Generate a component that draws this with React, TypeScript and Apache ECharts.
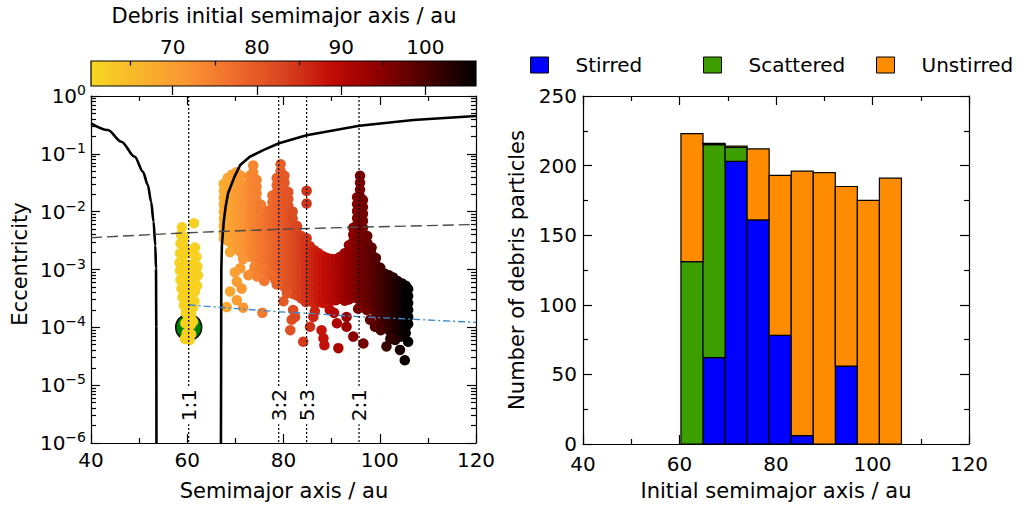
import React, { useEffect, useRef } from 'react';
import * as echarts from 'echarts';

const FONT = 'DejaVu Sans';

// ---------- colour bar ----------
const colorbarRange = [60.3, 106];
const colorbarMajorTicks = [70, 80, 90, 100];
const colorbarMinorTicks = [65, 75, 85, 95, 105];
const colormap = ['#f7d81f', '#f9b52c', '#fa9533', '#ef6c2c', '#d8441f', '#c20c06', '#8c0000', '#470000', '#000000'];

// ---------- left panel ----------
const resonanceA = [60.3, 79.0, 84.8, 95.7];
const resonanceLabels = ['1:1', '3:2', '5:3', '2:1'];
const resonanceLabelE = 4.5e-6;
const planet: [number, number] = [60.3, 1e-4];

const innerCurve: [number, number][] = [
  [40, 0.337], [43.5, 0.258], [46.3, 0.162], [49.1, 0.089], [50.8, 0.049], [51.8, 0.029],
  [52.5, 0.0148], [53.0, 0.0067], [53.36, 0.0026], [53.5, 1.05e-3], [53.57, 1e-4], [53.6, 1e-6],
];
const outerCurve: [number, number][] = [
  [67.0, 1e-6], [67.03, 1e-5], [67.05, 1e-4], [67.08, 1e-3], [67.2, 2.6e-3], [67.6, 7e-3],
  [68.0, 0.0125], [68.5, 0.021], [69.8, 0.04], [71.0, 0.064], [73.0, 0.089], [75.8, 0.116],
  [79.07, 0.152], [84.8, 0.21], [95.75, 0.305], [107, 0.385], [120, 0.451],
];
const greyDashed: [number, number][] = [[40, 3.55e-3], [60.3, 4.33e-3], [79, 4.95e-3], [95.7, 5.4e-3], [120, 6.0e-3]];
const blueDashDot: [number, number][] = [[60.3, 2.43e-4], [79, 1.86e-4], [84.8, 1.75e-4], [95.7, 1.53e-4], [120, 1.22e-4]];

// Trojan (1:1) particles: [a, log10 e]
const trojans: [number, number][] = [
  [58.9, -2.27], [61.4, -2.2], [58.7, -2.4], [59.3, -2.45], [58.6, -2.55], [59.4, -2.6], [61.6, -2.62],
  [58.5, -2.72], [59.3, -2.75], [60.6, -2.72], [61.9, -2.78], [58.4, -2.88], [59.2, -2.9], [60.2, -2.92],
  [61.3, -2.9], [62.1, -2.95], [58.5, -3.02], [59.4, -3.05], [60.4, -3.08], [61.4, -3.05], [62.2, -3.1],
  [58.6, -3.18], [59.5, -3.2], [60.5, -3.22], [61.5, -3.2], [62.0, -3.28], [58.8, -3.33], [59.7, -3.36],
  [60.7, -3.35], [61.6, -3.38], [59.0, -3.48], [59.9, -3.5], [60.9, -3.5], [61.5, -3.55], [59.3, -3.62],
  [60.3, -3.64], [61.2, -3.66], [59.7, -3.75], [60.8, -3.78], [60.2, -3.85], [59.6, -3.93], [60.7, -3.96],
  [61.2, -3.9], [59.9, -4.1], [60.8, -4.12], [59.5, -4.2], [60.5, -4.22],
];

// main debris cloud, columns of [a, log10 e values]
const cloudColumns: [number, number[]][] = [
  [67.6, [-1.52, -1.64, -1.76, -1.88, -2.0, -2.12, -2.24, -2.36, -2.46]],
  [68.4, [-1.42, -1.54, -1.66, -1.78, -1.9, -2.02, -2.14, -2.26, -2.38, -2.5]],
  [69.3, [-1.36, -1.48, -1.6, -1.72, -1.84, -1.96, -2.08, -2.2, -2.32, -2.44, -2.56]],
  [70.2, [-1.32, -1.44, -1.56, -1.68, -1.8, -1.92, -2.04, -2.16, -2.28, -2.4, -2.52, -2.64]],
  [71.1, [-1.38, -1.5, -1.62, -1.74, -1.86, -1.98, -2.1, -2.22, -2.34, -2.46, -2.58, -2.7]],
  [72.0, [-1.6, -1.72, -1.84, -1.96, -2.08, -2.2, -2.32, -2.44, -2.56, -2.68]],
  [73.0, [-1.38, -1.5, -1.62, -1.74, -1.86, -1.98, -2.1, -2.22, -2.34, -2.46, -2.58, -2.7, -2.78]],
  [73.7, [-1.2, -1.32, -1.44, -1.56, -1.68, -1.8, -1.92, -2.04, -2.16, -2.28, -2.4, -2.52, -2.64, -2.76]],
  [74.4, [-1.45, -1.57, -1.69, -1.81, -1.93, -2.05, -2.17, -2.29, -2.41, -2.53, -2.65, -2.77, -2.84]],
  [75.3, [-1.88, -2.0, -2.12, -2.24, -2.36, -2.48, -2.6, -2.72, -2.84, -2.9]],
  [76.1, [-2.12, -2.24, -2.36, -2.48, -2.6, -2.72, -2.84, -2.94]],
  [76.9, [-1.98, -2.1, -2.22, -2.34, -2.46, -2.58, -2.7, -2.82, -2.94, -3.0]],
  [77.7, [-1.72, -1.84, -1.96, -2.08, -2.2, -2.32, -2.44, -2.56, -2.68, -2.8, -2.92, -3.04]],
  [78.6, [-1.42, -1.54, -1.66, -1.78, -1.9, -2.02, -2.14, -2.26, -2.38, -2.5, -2.62, -2.74, -2.86, -2.98, -3.1]],
  [79.4, [-1.18, -1.3, -1.42, -1.54, -1.66, -1.78, -1.9, -2.02, -2.14, -2.26, -2.38, -2.5, -2.62, -2.74, -2.86, -2.98, -3.1, -3.2]],
  [80.2, [-1.38, -1.5, -1.62, -1.74, -1.86, -1.98, -2.1, -2.22, -2.34, -2.46, -2.58, -2.7, -2.82, -2.94, -3.06, -3.18, -3.3]],
  [81.0, [-1.66, -1.78, -1.9, -2.02, -2.14, -2.26, -2.38, -2.5, -2.62, -2.74, -2.86, -2.98, -3.1, -3.22, -3.34]],
  [81.9, [-2.0, -2.12, -2.24, -2.36, -2.48, -2.6, -2.72, -2.84, -2.96, -3.08, -3.2, -3.32, -3.42]],
  [82.8, [-2.25, -2.37, -2.49, -2.61, -2.73, -2.85, -2.97, -3.09, -3.21, -3.33, -3.45]],
  [83.7, [-2.42, -2.54, -2.66, -2.78, -2.9, -3.02, -3.14, -3.26, -3.38, -3.5]],
  [84.6, [-2.52, -2.64, -2.76, -2.88, -3.0, -3.12, -3.24, -3.36, -3.48, -3.56]],
  [85.5, [-2.6, -2.72, -2.84, -2.96, -3.08, -3.2, -3.32, -3.44, -3.55]],
  [86.4, [-2.67, -2.79, -2.91, -3.03, -3.15, -3.27, -3.39, -3.51, -3.58]],
  [87.3, [-2.72, -2.84, -2.96, -3.08, -3.2, -3.32, -3.44, -3.56]],
  [88.2, [-2.77, -2.89, -3.01, -3.13, -3.25, -3.37, -3.49, -3.58]],
  [89.1, [-2.8, -2.92, -3.04, -3.16, -3.28, -3.4, -3.52]],
  [90.0, [-2.82, -2.94, -3.06, -3.18, -3.3, -3.42, -3.54]],
  [90.9, [-2.82, -2.94, -3.06, -3.18, -3.3, -3.42, -3.53]],
  [91.8, [-2.78, -2.9, -3.02, -3.14, -3.26, -3.38, -3.5]],
  [92.7, [-2.72, -2.84, -2.96, -3.08, -3.2, -3.32, -3.44, -3.54]],
  [93.6, [-2.58, -2.7, -2.82, -2.94, -3.06, -3.18, -3.3, -3.42, -3.52]],
  [94.5, [-2.28, -2.4, -2.52, -2.64, -2.76, -2.88, -3.0, -3.12, -3.24, -3.36, -3.48]],
  [95.3, [-1.75, -1.87, -1.99, -2.11, -2.23, -2.35, -2.47, -2.59, -2.71, -2.83, -2.95, -3.07, -3.19, -3.31, -3.43, -3.5]],
  [95.9, [-1.38, -1.5, -1.62, -1.74, -1.86, -1.98, -2.1, -2.22, -2.34, -2.46, -2.58, -2.7, -2.82, -2.94, -3.06, -3.18, -3.3, -3.42, -3.52]],
  [96.5, [-1.8, -1.92, -2.04, -2.16, -2.28, -2.4, -2.52, -2.64, -2.76, -2.88, -3.0, -3.12, -3.24, -3.36, -3.48, -3.56]],
  [97.4, [-2.42, -2.54, -2.66, -2.78, -2.9, -3.02, -3.14, -3.26, -3.38, -3.5, -3.6]],
  [98.3, [-2.62, -2.74, -2.86, -2.98, -3.1, -3.22, -3.34, -3.46, -3.58, -3.68]],
  [99.2, [-2.8, -2.92, -3.04, -3.16, -3.28, -3.4, -3.52, -3.64, -3.74]],
  [100.1, [-2.97, -3.09, -3.21, -3.33, -3.45, -3.57, -3.69, -3.81, -3.9]],
  [101.0, [-3.07, -3.19, -3.31, -3.43, -3.55, -3.67, -3.79, -3.91, -4.0]],
  [101.9, [-3.1, -3.22, -3.34, -3.46, -3.58, -3.7, -3.82, -3.94, -4.05]],
  [102.8, [-3.14, -3.26, -3.38, -3.5, -3.62, -3.74, -3.86, -3.98, -4.08]],
  [103.7, [-3.2, -3.32, -3.44, -3.56, -3.68, -3.8, -3.92, -4.04, -4.12]],
  [104.6, [-3.24, -3.36, -3.48, -3.6, -3.72, -3.84, -3.96, -4.08, -4.16]],
  [105.4, [-3.28, -3.4, -3.52, -3.64, -3.76, -3.88, -4.0, -4.1]],
  [105.9, [-3.34, -3.46, -3.58, -3.7, -3.82, -3.94]],
];

// isolated particles: [a, log10 e]
const cloudOutliers: [number, number][] = [
  [68.9, -2.7], [68.9, -3.38], [70.3, -3.21], [71.3, -3.33], [68.2, -3.65], [71.6, -3.66], [75.6, -3.75],
  [70.3, -3.53], [71.0, -2.98], [71.6, -2.82], [73.7, -3.05], [75.8, -2.98], [72.7, -3.1], [69.9, -3.05],
  [74.0, -2.95], [75.0, -3.0], [76.5, -3.05], [77.5, -3.1], [78.3, -3.18], [74.5, -3.12], [76.0, -3.2],
  [78.6, -3.26], [80.0, -3.55], [80.7, -3.41], [81.7, -3.87], [81.4, -4.05], [82.4, -3.82], [84.1, -4.25],
  [82.0, -3.7], [84.8, -1.64], [84.8, -1.86], [84.8, -2.46],
  [85.5, -3.99], [86.2, -3.82], [86.5, -3.72], [87.9, -4.05], [88.3, -4.19], [88.5, -4.31], [91.1, -3.93],
  [91.4, -4.36], [93.1, -3.82], [93.1, -3.99], [94.5, -4.16], [96.6, -4.28], [97.3, -3.7], [98.0, -3.87],
  [99.0, -3.99], [89.6, -3.7], [90.5, -3.75], [95.5, -3.68],
  [101.4, -4.33], [103.2, -4.22], [104.2, -4.39], [105.2, -4.57], [105.9, -4.25], [100.2, -4.05], [102.2, -4.2],
];

// ---------- right panel (histogram) ----------
const binEdges = [60.3, 64.87, 69.44, 74.01, 78.58, 83.15, 87.72, 92.29, 96.86, 101.43, 106.0];
const stirred = [0, 62, 203, 161, 78, 6, 0, 56, 0, 0];
const scattered = [131, 153, 10, 0, 0, 0, 0, 0, 0, 0];
const unstirred = [92, 1, 1, 51, 115, 190, 195, 129, 175, 191];
const histNames = ['Stirred', 'Scattered', 'Unstirred'];
const histColors = ['#0000ff', '#3d9e00', '#ff8c00'];

const decades = [1e-6, 1e-5, 1e-4, 1e-3, 1e-2, 1e-1, 1];
const minorLog: number[] = [];
for (let d = -6; d < 0; d++) for (let k = 2; k <= 9; k++) minorLog.push(k * Math.pow(10, d));

function buildOption() {
  const toPt = (p: [number, number]) => [p[0], Math.pow(10, p[1])];
  const cloudData: number[][] = [];
  cloudColumns.forEach(([a, les]) => les.forEach((le) => cloudData.push([a, Math.pow(10, le)])));
  cloudOutliers.forEach((p) => cloudData.push(toPt(p)));
  const trojanData = trojans.map(toPt);

  const bases = binEdges.slice(0, -1).map(() => 0);
  const histData = [stirred, scattered, unstirred].map((vals) =>
    vals.map((v, i) => {
      const b = bases[i];
      bases[i] += v;
      return [binEdges[i], binEdges[i + 1], b, b + v];
    })
  );

  const black = { color: '#000', width: 1.2 };
  const tickLabel = { fontSize: 20, fontFamily: FONT, color: '#000' };

  const xBase = (grid: number, pos: string, labels: boolean, margin = 8) => ({
    gridIndex: grid, type: 'value', position: pos, min: 40, max: 120, interval: 20,
    axisLine: { show: true, onZero: false, lineStyle: black },
    axisTick: { show: true, inside: true, length: 9, lineStyle: black },
    minorTick: { show: true, splitNumber: 2, length: 5, lineStyle: black },
    axisLabel: labels ? { ...tickLabel, margin, lineHeight: 16 } : { show: false },
    splitLine: { show: false }, minorSplitLine: { show: false },
  });

  const logAxis = (pos: string, minor: boolean, labels: boolean) => ({
    gridIndex: 0, type: 'log', logBase: 10, min: 1e-6, max: 1, position: pos,
    axisLine: { show: !minor, onZero: false, lineStyle: black },
    axisTick: { show: true, inside: true, length: minor ? 5 : 9, lineStyle: black, customValues: minor ? minorLog : decades },
    axisLabel: labels
      ? {
          customValues: decades, margin: 5,
          formatter: (v: number) => {
            const ex = Math.round(Math.log10(v));
            return `{b|10}{s|${ex < 0 ? '\u2212' + -ex : ex}}`;
          },
          rich: {
            b: { fontSize: 20, fontFamily: FONT, color: '#000' },
            s: { fontSize: 14, fontFamily: FONT, color: '#000', padding: [0, 0, 12, 0] },
          },
        }
      : { show: false },
    splitLine: { show: false },
  });

  const barRender = (color: string) => (params: any, api: any) => {
    const x0 = api.value(0), x1 = api.value(1), y0 = api.value(2), y1 = api.value(3);
    if (!(y1 > y0)) return { type: 'group', children: [] };
    const p0 = api.coord([x0, y1]);
    const p1 = api.coord([x1, y0]);
    return {
      type: 'rect',
      shape: { x: p0[0], y: p0[1], width: p1[0] - p0[0], height: p1[1] - p0[1] },
      style: { fill: color, stroke: '#000', lineWidth: 1.2 },
    };
  };

  const gradStops = colormap.map((c, i) => ({ offset: i / (colormap.length - 1), color: c }));

  const legendItem = (i: number, left: number) => ({
    left, top: 50, orient: 'horizontal', selectedMode: false,
    itemWidth: 18, itemHeight: 16,
    textStyle: { fontSize: 20, fontFamily: FONT, color: '#000', padding: [0, 0, 0, 22] },
    data: [{ name: histNames[i], icon: 'rect', itemStyle: { color: histColors[i], borderColor: '#000', borderWidth: 1 } }],
  });

  const curveLine = (name: string, data: [number, number][], smooth: boolean) => ({
    name, type: 'line', xAxisIndex: 0, yAxisIndex: 0, z: 4, data,
    smooth: smooth ? 0.3 : false, smoothMonotone: 'x',
    symbol: 'none', lineStyle: { color: '#000', width: 2.6 }, silent: true,
  });

  return {
    animation: false,
    backgroundColor: '#fff',
    grid: [
      { left: 91, top: 96, width: 385, height: 347, containLabel: false, outerBoundsMode: 'none' },
      { left: 91, top: 61, width: 385, height: 25, containLabel: false, outerBoundsMode: 'none' },
      { left: 583, top: 96, width: 386, height: 348, containLabel: false, outerBoundsMode: 'none' },
    ],
    legend: [legendItem(0, 525), legendItem(1, 698), legendItem(2, 871)],
    visualMap: [
      {
        type: 'continuous', show: false, seriesIndex: 1, dimension: 0,
        min: colorbarRange[0], max: colorbarRange[1],
        inRange: { color: colormap }, outOfRange: { color: colormap[0] },
      },
    ],
    xAxis: [
      xBase(0, 'bottom', true, 9),
      xBase(0, 'top', false),
      {
        gridIndex: 1, type: 'value', position: 'top', min: colorbarRange[0], max: colorbarRange[1], z: 10,
        axisLine: { show: false },
        axisTick: { show: true, inside: true, length: 9, lineStyle: black, customValues: colorbarMajorTicks },
        axisLabel: { ...tickLabel, margin: 4, customValues: colorbarMajorTicks },
        splitLine: { show: false },
      },
      {
        gridIndex: 1, type: 'value', position: 'top', min: colorbarRange[0], max: colorbarRange[1], z: 10,
        axisLine: { show: false },
        axisTick: { show: true, inside: true, length: 4.5, lineStyle: black, customValues: colorbarMinorTicks },
        axisLabel: { show: false },
        splitLine: { show: false },
      },
      xBase(2, 'bottom', true, 12),
      xBase(2, 'top', false),
    ],
    yAxis: [
      logAxis('left', false, true),
      logAxis('left', true, false),
      logAxis('right', false, false),
      logAxis('right', true, false),
      { gridIndex: 1, type: 'value', min: 0, max: 1, show: false },
      {
        gridIndex: 2, type: 'value', position: 'left', min: 0, max: 250, interval: 50,
        axisLine: { show: true, onZero: false, lineStyle: black },
        axisTick: { show: true, inside: true, length: 9, lineStyle: black },
        minorTick: { show: true, splitNumber: 2, length: 5, lineStyle: black },
        axisLabel: { ...tickLabel, margin: 6, lineHeight: 14, padding: [0, 0, 8, 0] },
        splitLine: { show: false }, minorSplitLine: { show: false },
      },
      {
        gridIndex: 2, type: 'value', position: 'right', min: 0, max: 250, interval: 50,
        axisLine: { show: true, onZero: false, lineStyle: black },
        axisTick: { show: true, inside: true, length: 9, lineStyle: black },
        minorTick: { show: true, splitNumber: 2, length: 5, lineStyle: black },
        axisLabel: { show: false },
        splitLine: { show: false }, minorSplitLine: { show: false },
      },
    ],
    series: [
      {
        name: 'planet', type: 'scatter', xAxisIndex: 0, yAxisIndex: 0, z: 2,
        symbol: 'circle', symbolSize: 26, data: [planet],
        itemStyle: { color: '#008000', borderColor: '#000', borderWidth: 1.5, opacity: 1 },
        silent: true,
      },
      {
        name: 'cloud', type: 'scatter', xAxisIndex: 0, yAxisIndex: 0, z: 3,
        symbol: 'circle', symbolSize: 10.5, data: cloudData,
        itemStyle: { opacity: 1 }, silent: true, large: false,
      },
      {
        name: 'trojans', type: 'scatter', xAxisIndex: 0, yAxisIndex: 0, z: 3,
        symbol: 'circle', symbolSize: 10.5, data: trojanData,
        itemStyle: { color: '#f7d11f', opacity: 1 }, silent: true,
      },
      curveLine('inner', innerCurve, true),
      curveLine('outer', outerCurve, false),
      {
        name: 'grey', type: 'line', xAxisIndex: 0, yAxisIndex: 0, z: 4, data: greyDashed,
        symbol: 'none', lineStyle: { color: '#4a4a4a', width: 1.4, type: [11, 5] }, silent: true,
      },
      {
        name: 'blue', type: 'line', xAxisIndex: 0, yAxisIndex: 0, z: 4, data: blueDashDot,
        symbol: 'none', lineStyle: { color: '#3d88c8', width: 1.4, type: [7, 3, 2, 3] }, silent: true,
      },
      {
        name: 'resonances', type: 'custom', xAxisIndex: 0, yAxisIndex: 0, z: 5, silent: true,
        data: resonanceA.map((a) => [a, 1e-3]),
        renderItem: (params: any, api: any) => {
          const a = api.value(0);
          const top = api.coord([a, 1]);
          const bottom = api.coord([a, 1e-6]);
          const lab = api.coord([a, resonanceLabelE]);
          return {
            type: 'group',
            children: [
              {
                type: 'line',
                shape: { x1: top[0], y1: top[1], x2: bottom[0], y2: bottom[1] },
                style: { stroke: '#000', lineWidth: 1.2, lineDash: [2, 2] },
              },
              {
                type: 'text', x: lab[0], y: lab[1], rotation: Math.PI / 2,
                style: {
                  text: resonanceLabels[params.dataIndex], fontSize: 20, fontFamily: FONT, fill: '#000',
                  align: 'center', verticalAlign: 'middle', backgroundColor: '#fff', padding: [3, 3, 1, 3],
                },
              },
            ],
          };
        },
      },
      {
        name: 'colorbar', type: 'custom', xAxisIndex: 2, yAxisIndex: 4, z: 2, silent: true,
        data: [[colorbarRange[0], colorbarRange[1]]],
        renderItem: (params: any, api: any) => {
          const p0 = api.coord([api.value(0), 1]);
          const p1 = api.coord([api.value(1), 0]);
          return {
            type: 'rect',
            shape: { x: p0[0], y: p0[1], width: p1[0] - p0[0], height: p1[1] - p0[1] },
            style: { fill: new echarts.graphic.LinearGradient(0, 0, 1, 0, gradStops), stroke: '#000', lineWidth: 1.2 },
          };
        },
      },
      ...histData.map((d, i) => ({
        name: histNames[i], type: 'custom', xAxisIndex: 4, yAxisIndex: 5, z: 2, silent: true,
        itemStyle: { color: histColors[i] },
        data: d,
        renderItem: barRender(histColors[i]),
      })),
    ],
    graphic: [
      { type: 'text', x: 284, y: 16, style: { text: 'Debris initial semimajor axis / au', fontSize: 21, fontFamily: FONT, fill: '#000', align: 'center', verticalAlign: 'middle' } },
      { type: 'text', x: 284, y: 491, style: { text: 'Semimajor axis / au', fontSize: 21, fontFamily: FONT, fill: '#000', align: 'center', verticalAlign: 'middle' } },
      { type: 'text', x: 776, y: 491, style: { text: 'Initial semimajor axis / au', fontSize: 21, fontFamily: FONT, fill: '#000', align: 'center', verticalAlign: 'middle' } },
      { type: 'text', x: 20, y: 264, rotation: Math.PI / 2, style: { text: 'Eccentricity', fontSize: 21, fontFamily: FONT, fill: '#000', align: 'center', verticalAlign: 'middle' } },
      { type: 'text', x: 517, y: 270, rotation: Math.PI / 2, style: { text: 'Number of debris particles', fontSize: 21, fontFamily: FONT, fill: '#000', align: 'center', verticalAlign: 'middle' } },
    ],
  };
}

export default function App() {
  const ref = useRef<HTMLDivElement>(null);
  useEffect(() => {
    if (!ref.current) return;
    const chart = echarts.init(ref.current, null, { renderer: 'svg' });
    chart.setOption(buildOption() as any);
    return () => chart.dispose();
  }, []);
  return <div ref={ref} style={{ position: 'absolute', left: 0, top: 0, width: 1022, height: 506, background: '#fff' }} />;
}
